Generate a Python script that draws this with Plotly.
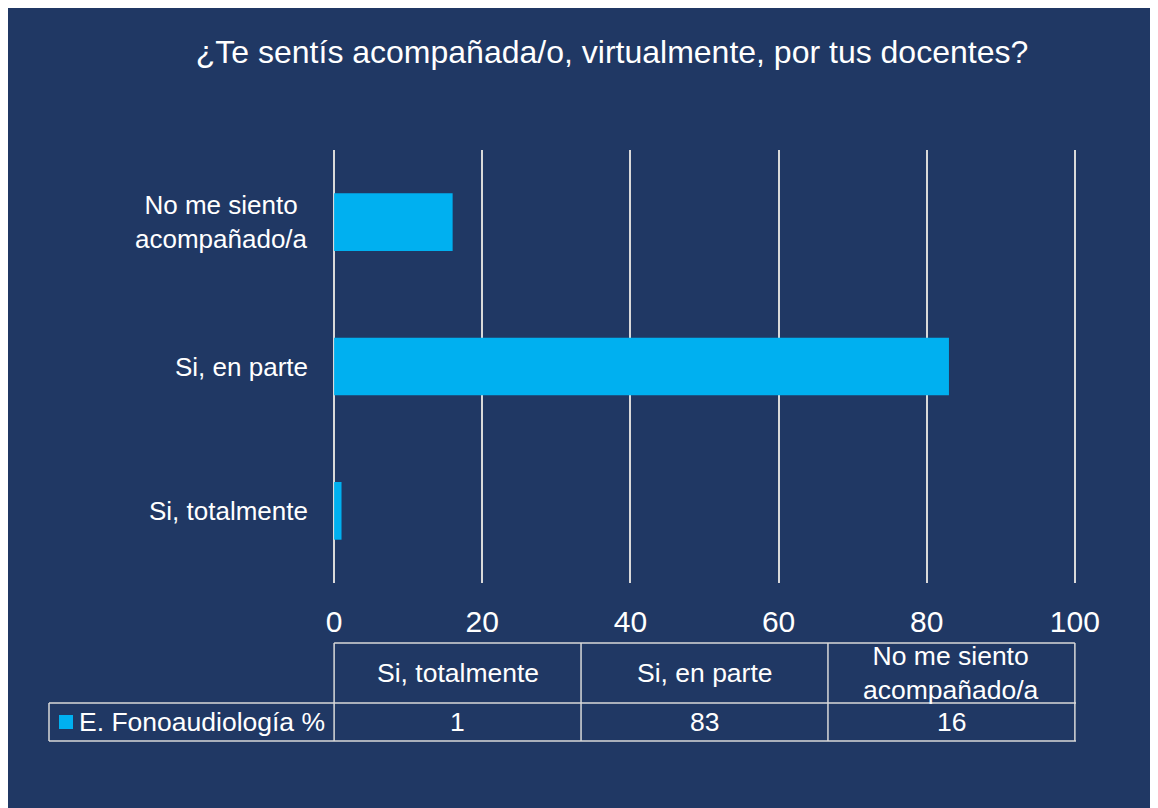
import plotly.graph_objects as go

# ------------------ Data ------------------
categories = ["Si, totalmente", "Si, en parte", "No me siento acompañado/a"]
table_labels = ["Si, totalmente", "Si, en parte", "No me siento<br>acompañado/a"]
axis_labels = ["Si, totalmente", "Si, en parte", "No me siento<br>acompañado/a"]
values = [1, 83, 16]
series_name = "E. Fonoaudiología %"
x_ticks = [0, 20, 40, 60, 80, 100]
title = "¿Te sentís acompañada/o, virtualmente, por tus docentes?"

# ------------------ Style ------------------
# page body keeps an 8px margin, so the figure is drawn 8px in from the window corner
OFF = 8
W, H = 1158 - OFF, 808 - OFF
PL, PR, PT, PB = 333, 1076, 150, 583          # plot area in window pixels
bg = "#203864"
bar_color = "#00B0F0"
line_color = "#D9D9D9"
font = "Liberation Sans, Arial, sans-serif"

plot_w = PR - PL
plot_h = PB - PT


def px_x(px):
    return (px - PL) / plot_w


def px_y(py):
    return (PB - py) / plot_h


fig = go.Figure()
fig.add_trace(go.Bar(
    x=values, y=categories, orientation="h",
    marker=dict(color=bar_color, line=dict(width=0)),
    name=series_name, showlegend=False, hoverinfo="x+y",
))

shapes = []
annotations = []

# category labels on the y axis (multi-line labels centred on themselves)
for cat, lab in zip(categories, axis_labels):
    annotations.append(dict(xref="paper", yref="y", x=px_x(310), y=cat,
                            text=lab, showarrow=False, xanchor="right", yanchor="middle",
                            align="center", font=dict(size=26, color="white", family=font)))

# data table under the axis
n = len(categories)
col_w = 100 / n
row_top, row_mid, row_bot = px_y(643), px_y(703), px_y(741)
tbl = dict(color=line_color, width=1.5)
for i in range(n + 1):
    shapes.append(dict(type="line", xref="x", yref="paper", x0=i * col_w, x1=i * col_w,
                       y0=row_top, y1=row_bot, line=tbl))
shapes.append(dict(type="line", xref="x", yref="paper", x0=0, x1=100, y0=row_top, y1=row_top, line=tbl))
shapes.append(dict(type="line", xref="paper", yref="paper",
                   x0=px_x(49), x1=1, y0=row_mid, y1=row_mid, line=tbl))
shapes.append(dict(type="line", xref="paper", yref="paper",
                   x0=px_x(49), x1=1, y0=row_bot, y1=row_bot, line=tbl))
shapes.append(dict(type="line", xref="paper", yref="paper",
                   x0=px_x(49), x1=px_x(49), y0=row_mid, y1=row_bot, line=tbl))
# legend key
shapes.append(dict(type="rect", xref="paper", yref="paper",
                   x0=px_x(59), x1=px_x(73), y0=px_y(729), y1=px_y(715),
                   fillcolor=bar_color, line=dict(width=0)))

for i, (lab, v) in enumerate(zip(table_labels, values)):
    cx = (i + 0.5) * col_w
    annotations.append(dict(xref="x", yref="paper", x=cx, y=(row_top + row_mid) / 2,
                            text=lab, showarrow=False, align="center",
                            xanchor="center", yanchor="middle",
                            font=dict(size=26.5, color="white", family=font)))
    annotations.append(dict(xref="x", yref="paper", x=cx, y=(row_mid + row_bot) / 2,
                            text=str(v), showarrow=False,
                            xanchor="center", yanchor="middle",
                            font=dict(size=26.5, color="white", family=font)))

annotations.append(dict(xref="paper", yref="paper", x=px_x(77), y=(row_mid + row_bot) / 2,
                        xanchor="left", yanchor="middle", showarrow=False,
                        text=series_name,
                        font=dict(size=26.5, color="white", family=font)))

fig.update_layout(
    width=W, height=H,
    margin=dict(l=PL - OFF, r=1158 - PR, t=PT - OFF, b=808 - PB, pad=0),
    paper_bgcolor=bg, plot_bgcolor="rgba(0,0,0,0)",
    title=dict(text=title, x=(612 - OFF) / W, xanchor="center",
               y=1 - (52 - OFF) / H, yanchor="middle",
               font=dict(size=32, color="white", family=font)),
    bargap=0.6,
    showlegend=False,
    shapes=shapes,
    annotations=annotations,
    font=dict(family=font, color="white"),
)
fig.update_xaxes(range=[-0.15, 100.15], tickvals=x_ticks, showgrid=True, gridcolor=line_color,
                 gridwidth=1.5, zeroline=True, zerolinecolor=line_color, zerolinewidth=1.5,
                 showline=False,
                 ticks="outside", ticklen=12, tickcolor="rgba(0,0,0,0)",
                 tickfont=dict(size=30, color="white", family=font))
fig.update_yaxes(showticklabels=False, showgrid=False, zeroline=False, showline=False,
                 categoryorder="array", categoryarray=categories)

fig.write_html("out.html")
